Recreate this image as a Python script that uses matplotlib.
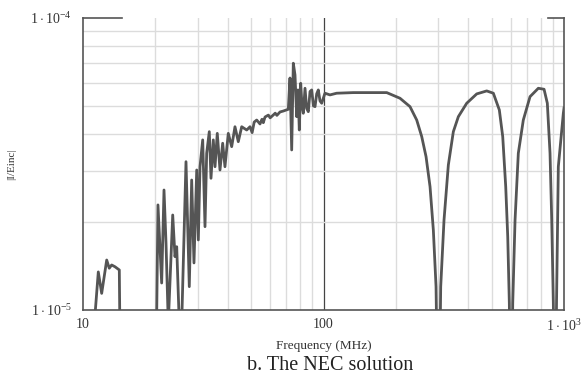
import numpy as np
import matplotlib
matplotlib.use("Agg")
import matplotlib.pyplot as plt
from matplotlib.ticker import FixedLocator, NullFormatter

plt.rcParams['font.family'] = ['Liberation Serif', 'DejaVu Serif']
plt.rcParams['mathtext.fontset'] = 'custom'
plt.rcParams['mathtext.rm'] = 'Liberation Serif'
plt.rcParams['mathtext.it'] = 'Liberation Serif'

# frequency (MHz) and |I/Einc| in units of 1e-5
freq = [11.15, 11.58, 11.96, 12.55, 12.86, 13.16, 13.59, 14.16, 14.25,
        20.2, 20.5, 21.24, 21.72, 22.14, 22.63, 23.61, 24.13, 24.53, 25.14, 25.73,
        26.81, 27.67, 28.31, 28.94, 29.71, 30.17, 30.66, 31.46, 32.16, 32.68,
        33.51, 34.06, 34.82, 35.4, 36.17, 37.12, 38.09, 38.93, 40.19, 41.52,
        42.85, 44.23, 45.7, 47.94, 49.48, 50.5, 51.5, 52.76, 54.45, 55.5, 56.2,
        57.13, 59.0, 60.0, 61.84, 63.0, 64.0, 65.95, 68.0, 71.4,
        72.56, 73.75, 74.9, 76.12, 77.37, 78.34, 79.32, 80.39, 81.4, 82.42, 83.78,
        85.1, 86.47, 87.9, 89.33, 90.8, 92.2, 93.7, 95.15, 96.7, 98.29, 101.4,
        106.4, 113.4, 133.0, 183.2,
        208.0, 228.9, 244.1, 256.1, 266.9, 277.3, 286.2, 293.7, 300.8, 307.1,
        317.0, 330.4, 346.6, 363.6, 393.9, 433.5, 477.0, 508.3, 538.3, 556.1,
        572.3, 583.4, 592.4, 602.1, 612.0, 625.7, 645.6, 677.2, 722.2, 781.9,
        826.0, 852.3, 874.6, 889.0, 902.7, 917.5, 930.7, 946.9, 993.4, 1000.0]
ratio = [0.9, 1.35, 1.14, 1.483, 1.39, 1.426, 1.406, 1.371, 0.8,
         0.8, 2.29, 1.237, 2.576, 1.696, 0.9, 2.115, 1.523, 1.647, 0.9, 0.9,
         3.22, 1.202, 2.787, 1.449, 3.016, 1.737, 3.095, 3.824, 1.929, 3.441,
         4.08, 2.825, 3.824, 3.095, 4.026, 3.016, 3.724, 3.095, 4.026, 3.625,
         4.242, 3.77, 4.242, 4.134, 4.242, 4.05, 4.4, 4.472, 4.335, 4.5, 4.38,
         4.58, 4.65, 4.55, 4.654, 4.72, 4.64, 4.766, 4.8, 4.868,
         6.23, 3.532, 7.0, 6.38, 4.592, 5.67, 4.134, 5.975, 5.0, 4.717, 5.745,
         4.9, 4.777, 5.6, 5.67, 5.0, 4.97, 5.5, 5.67, 5.2, 5.105, 5.525,
         5.452, 5.525, 5.552, 5.552,
         5.31, 4.97, 4.472, 3.924, 3.35, 2.644, 1.879, 1.202, 0.3, 1.202,
         2.033, 3.137, 4.08, 4.592, 5.105, 5.495, 5.626, 5.525, 4.842, 3.924,
         2.644, 1.784, 1.054, 0.3, 1.056, 2.033, 3.441, 4.472, 5.377, 5.745,
         5.70, 5.105, 3.441, 2.033, 1.054, 0.3, 1.056, 3.095, 4.717, 4.918]

x_ticks = [10, 100, 1000]
x_labels = ['10', '100', r'$1\cdot10^{3}$']
y_ticks = [1e-5, 1e-4]
y_labels = [r'$1\cdot10^{-5}$', r'$1\cdot10^{-4}$']

fig = plt.figure(figsize=(5.86, 3.81), dpi=100)
ax = fig.add_axes([0.1416, 0.1864, 0.8209, 0.7664])

ax.plot(freq, np.array(ratio) * 1e-5, color='#555555', lw=2.0)

ax.set_xscale('log')
ax.set_yscale('log')
ax.set_xlim(10, 1000)
ax.set_ylim(1e-5, 1e-4)

ax.xaxis.set_major_locator(FixedLocator(x_ticks))
ax.set_xticklabels(x_labels)
ax.yaxis.set_major_locator(FixedLocator(y_ticks))
ax.set_yticklabels(y_labels)
ax.xaxis.set_minor_locator(FixedLocator([k * d for d in (10, 100) for k in range(2, 10)]))
ax.yaxis.set_minor_locator(FixedLocator([k * 1e-5 for k in range(2, 10)]))
ax.xaxis.set_minor_formatter(NullFormatter())
ax.yaxis.set_minor_formatter(NullFormatter())
ax.tick_params(which='both', length=0, labelsize=10, colors='#333333')
ax.tick_params(axis='x', pad=6)
ax.tick_params(axis='y', pad=8)

ax.grid(which='minor', color='#dcdcdc', lw=1.0)
ax.axvline(100, color='#444444', lw=0.9, zorder=1)

for s in ['left', 'bottom', 'right']:
    ax.spines[s].set_color('#555555')
    ax.spines[s].set_linewidth(1.2)
ax.spines['top'].set_visible(False)
# mathcad style short top stubs
ax.plot([0, 0.081], [1, 1], transform=ax.transAxes, color='#555555', lw=1.2, clip_on=False)
ax.plot([0.967, 1], [1, 1], transform=ax.transAxes, color='#555555', lw=1.2, clip_on=False)

ax.set_xlabel('Frequency (MHz)', fontsize=9.5, color='#333333', labelpad=4)
ax.set_ylabel('|I/Einc|', fontsize=8, color='#333333', labelpad=10)

fig.text(0.563, 0.03, 'b. The NEC solution', ha='center', fontsize=14.5, color='#222222')

fig.savefig('out.png', dpi=100)
